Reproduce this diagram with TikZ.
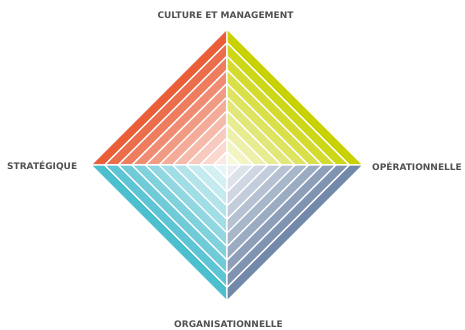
\documentclass[tikz,border=0pt]{standalone}
\usepackage{fontspec}
\setmainfont{DejaVu Sans}
\definecolor{cTL}{HTML}{EA5E39}
\definecolor{cTR}{HTML}{C9D200}
\definecolor{cBL}{HTML}{4CBFCE}
\definecolor{cBR}{HTML}{7389A9}
\definecolor{labelgray}{HTML}{505050}
\tikzset{
  band/.style={draw=white, line width=1.4pt, line join=miter},
  lab/.style={font=\bfseries\fontsize{9}{10}\selectfont, text=labelgray, inner sep=0pt}
}
\begin{document}
\begin{tikzpicture}[x=1pt,y=-1pt]
\useasboundingbox (0,0) rectangle (465,329);
\coordinate (C) at (227,165);
\foreach \col/\a/\b in {cTL/-1/-1, cTR/1/-1, cBL/-1/1, cBR/1/1}{
  \foreach \k in {0,...,9}{
    \pgfmathsetmacro{\s}{136*(10-\k)/10}
    \pgfmathsetmacro{\p}{100-9.5*\k}
    \fill[\col!\p!white] (C) -- ++(0,\b*\s) -- ++(\a*\s,-\b*\s) -- cycle;
    \draw[band] (C) -- ++(0,\b*\s) -- ++(\a*\s,-\b*\s) -- cycle;
  }
}
\node[lab] (top) at (225.5,15.5) {CULTURE ET MANAGEMENT};
\node[lab, anchor=west] (left) at (7,166) {STRATÉGIQUE};
\node[lab, anchor=west] (right) at (372,166) {OPÉRATIONNELLE};
\node[lab] (bottom) at (228.5,324.6) {ORGANISATIONNELLE};
\end{tikzpicture}
\end{document}
